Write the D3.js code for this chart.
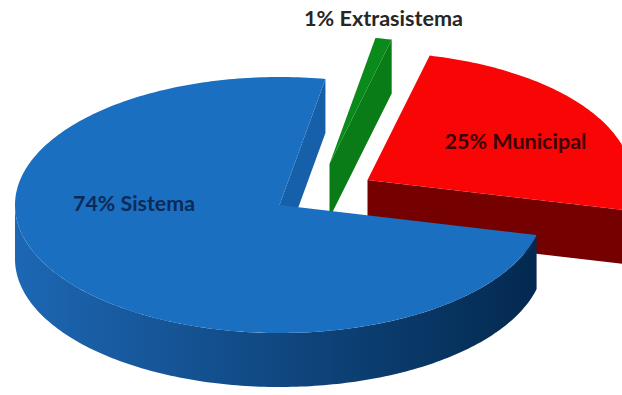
<!DOCTYPE html>
<html>
<head>
<meta charset="utf-8">
<script src="https://cdn.jsdelivr.net/npm/d3@7"></script>
<style>
  body { margin: 0; background: #fff; }
  svg { display: block; }
  text { font-family: Lato, "Open Sans", sans-serif; font-weight: bold; }
</style>
</head>
<body>
<div id="chart"></div>
<script>
// data
const categories = ["Sistema", "Extrasistema", "Municipal"];
const values = [74, 1, 25];
const labels = ["74% Sistema", "1% Extrasistema", "25% Municipal"];

const width = 622, height = 395;
const cx = 279.5, cy = 205, rx = 264.5, ry = 128, depth = 54;
const firstAngle = 103.6 * Math.PI / 180;
const deg = Math.PI / 180;

// look of each slice (pull = how far the slice is pulled out)
const look = {
  Sistema:      { top: "#1b6fc1", side: ["#1d67b4", "#03284e"], face: "#1660aa", text: "#0c2a57",
                  pull: [0, 0], label: { angle: 270, r: 0.55, w: 122 } },
  Extrasistema: { top: "#0b8a1c", side: ["#087015", "#054a0c"], face: "#097c18", text: "#262626",
                  pull: [50, -41], label: { outside: true, w: 159 } },
  Municipal:    { top: "#fa0505", side: ["#7e0000", "#6a0000"], face: "#740000", text: "#3a0202",
                  pull: [88, -25], label: { angle: 62.6, r: 0.63, w: 142 } }
};

const x = d3.scaleLinear().domain([-1, 1]).range([cx - rx, cx + rx]);
const y = d3.scaleLinear().domain([-1, 1]).range([cy + ry, cy - ry]);

const pie = d3.pie().sort(null).value(d => d.value)
  .startAngle(firstAngle).endAngle(firstAngle + 2 * Math.PI);

const arcs = pie(categories.map((c, i) => ({ name: c, value: values[i], label: labels[i] })));

function pt(a, r, z, off) {
  return [x(r * Math.sin(a)) + off[0], y(r * Math.cos(a)) + off[1] + z];
}
function rim(a0, a1, z, off) {
  const n = Math.max(2, Math.ceil(Math.abs(a1 - a0) / deg));
  return d3.range(n + 1).map(i => pt(a0 + (a1 - a0) * i / n, 1, z, off));
}
const line = d3.line();

const svg = d3.select('#chart')
  .append('svg')
  .attr('width', width)
  .attr('height', height);

const defs = svg.append('defs');

// far slices first
const order = arcs.slice().sort((p, q) => look[p.data.name].pull[1] - look[q.data.name].pull[1]);

order.forEach((d, i) => {
  const L = look[d.data.name];
  const off = L.pull;
  const g = svg.append('g');
  const a = d.startAngle, b = d.endAngle;

  const gid = 'side' + i;
  const grad = defs.append('linearGradient').attr('id', gid)
    .attr('gradientUnits', 'userSpaceOnUse')
    .attr('x1', x(-1) + off[0]).attr('x2', x(1) + off[0])
    .attr('y1', 0).attr('y2', 0);
  grad.append('stop').attr('offset', '0%').attr('stop-color', L.side[0]);
  grad.append('stop').attr('offset', '100%').attr('stop-color', L.side[1]);

  // outer wall, only the part turned towards us
  for (let k = -1; k <= 2; k++) {
    const s = Math.max(a, Math.PI / 2 + 2 * Math.PI * k);
    const e = Math.min(b, 3 * Math.PI / 2 + 2 * Math.PI * k);
    if (e > s) {
      const pts = rim(s, e, 0, off).concat(rim(e, s, depth, off));
      g.append('path').attr('d', line(pts) + 'Z').attr('fill', `url(#${gid})`);
    }
  }

  // cut faces
  [[a, Math.sin(a) < 0], [b, Math.sin(b) > 0]].forEach(([ang, show]) => {
    if (!show) return;
    const pts = [pt(0, 0, 0, off), pt(ang, 1, 0, off), pt(ang, 1, depth, off), pt(0, 0, depth, off)];
    g.append('path').attr('d', line(pts) + 'Z').attr('fill', L.face);
  });

  // top
  const top = [pt(0, 0, 0, off)].concat(rim(a, b, 0, off));
  g.append('path').attr('d', line(top) + 'Z').attr('fill', L.top);
});

// labels
arcs.forEach(d => {
  const L = look[d.data.name];
  const lb = L.label;
  let p;
  if (lb.outside) {
    const m = (d.startAngle + d.endAngle) / 2;
    p = pt(m, 1, 0, L.pull);
    p[1] -= 19;
  } else {
    p = pt(lb.angle * deg, lb.r, 0, L.pull);
  }
  svg.append('text')
    .attr('x', p[0]).attr('y', p[1] + 1)
    .attr('text-anchor', 'middle')
    .attr('dominant-baseline', 'middle')
    .attr('font-size', 20)
    .attr('fill', L.text)
    .attr('textLength', lb.w)
    .attr('lengthAdjust', 'spacingAndGlyphs')
    .text(d.data.label);
});
</script>
</body>
</html>
